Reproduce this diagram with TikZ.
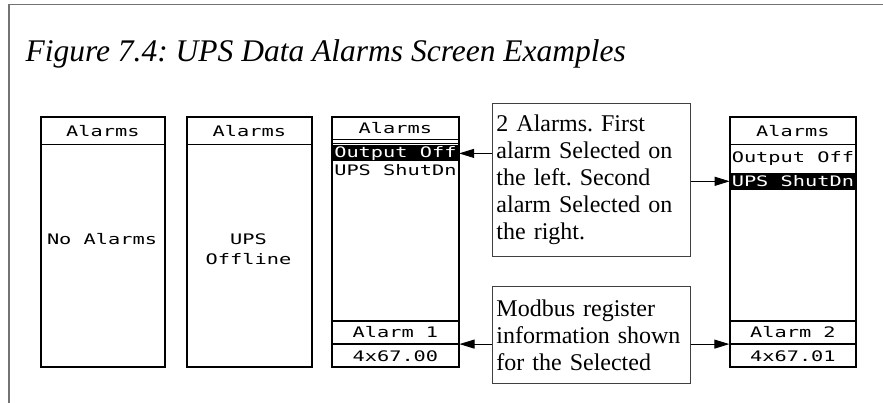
\documentclass[tikz,border=0pt]{standalone}
\usepackage{fontspec}
\setmainfont{Liberation Serif}
\newfontfamily\lcdfont[FakeStretch=1.4]{DejaVu Sans Mono}
\usetikzlibrary{arrows.meta}
\frenchspacing
\begin{document}
\begin{tikzpicture}[x=1pt, y=-1pt]
    \tikzstyle{screen} = [draw, line width=1.8pt, anchor=north west, inner sep=0pt, minimum height=250pt]
    \tikzstyle{lcd} = [inner sep=0pt, font=\lcdfont\fontsize{14.5}{20}\selectfont]
    \tikzstyle{screenhead} = [lcd, draw, line width=1.2pt, anchor=north, minimum height=28pt]
    \tikzstyle{lcdrow} = [lcd, anchor=north, minimum height=16pt]
    \tikzstyle{selrow} = [lcdrow, fill=black, text=white]
    \tikzstyle{regrow} = [lcd, draw, line width=1.2pt, anchor=south, minimum height=22.5pt]
    \tikzstyle{note} = [draw=black!75, line width=0.9pt, anchor=north west, align=left, text width=190pt, inner xsep=4pt, inner ysep=8pt, font=\fontsize{24}{27}\selectfont]
    \tikzstyle{pointer} = [-{Triangle[length=15pt, width=9pt]}, line width=0.9pt]
    \useasboundingbox (0,0) rectangle (883,403);
    \draw[black!55, line width=1.5pt] (9,403) -- (9,4.5) -- (883,4.5);
    \node[anchor=base west, font=\itshape\fontsize{31.5}{34}\selectfont] (title) at (22,62) {Figure 7.4: UPS Data Alarms Screen Examples};
    \node[screen, minimum width=124pt] (scrNone) at (40,116) {};
    \node[screenhead, minimum width=124pt] (headNone) at (scrNone.north) {Alarms};
    \node[lcd] (msgNone) at (102,239) {No Alarms};
    \node[screen, minimum width=125pt] (scrOffline) at (186,116) {};
    \node[screenhead, minimum width=125pt] (headOffline) at (scrOffline.north) {Alarms};
    \node[lcd, align=center, anchor=north] (msgOffline) at (248.5,234) {UPS\\Offline};
    \node[screen, minimum width=127pt] (scrFirst) at (331,116) {};
    \node[screenhead, minimum width=127pt, minimum height=23pt] (headFirst) at (scrFirst.north) {Alarms};
    \draw[line width=1.2pt] ([yshift=-3.5pt]headFirst.south west) -- ([yshift=-3.5pt]headFirst.south east);
    \node[selrow, minimum width=127pt] (selFirst) at ([yshift=-5pt]headFirst.south) {Output Off};
    \node[lcdrow, minimum width=127pt] (nextFirst) at (selFirst.south) {UPS ShutDn};
    \node[regrow, minimum width=127pt] (valFirst) at (scrFirst.south) {4x67.00};
    \node[regrow, minimum width=127pt] (regFirst) at (valFirst.north) {Alarm 1};
    \node[screen, minimum width=126pt] (scrSecond) at (729,116) {};
    \node[screenhead, minimum width=126pt] (headSecond) at (scrSecond.north) {Alarms};
    \node[lcdrow, minimum width=126pt, minimum height=27pt] (prevSecond) at (headSecond.south) {Output Off};
    \node[selrow, minimum width=126pt, minimum height=17pt] (selSecond) at (prevSecond.south) {UPS ShutDn};
    \node[regrow, minimum width=126pt] (valSecond) at (scrSecond.south) {4x67.01};
    \node[regrow, minimum width=126pt] (regSecond) at (valSecond.north) {Alarm 2};
    \node[note, minimum height=153pt] (noteSel) at (492,103) {2 Alarms. First\\alarm Selected on\\the left. Second\\alarm Selected on\\the right.};
    \node[note, minimum height=97pt] (noteReg) at (492,286) {Modbus register\\information shown\\for the Selected};
    \draw[pointer] (noteSel.west |- selFirst.east) -- (selFirst.east);
    \draw[pointer] (noteReg.west |- regFirst.south east) -- (regFirst.south east);
    \draw[pointer] (noteSel.east |- selSecond.west) -- (selSecond.west);
    \draw[pointer] (noteReg.east |- regSecond.south west) -- (regSecond.south west);
\end{tikzpicture}
\end{document}
